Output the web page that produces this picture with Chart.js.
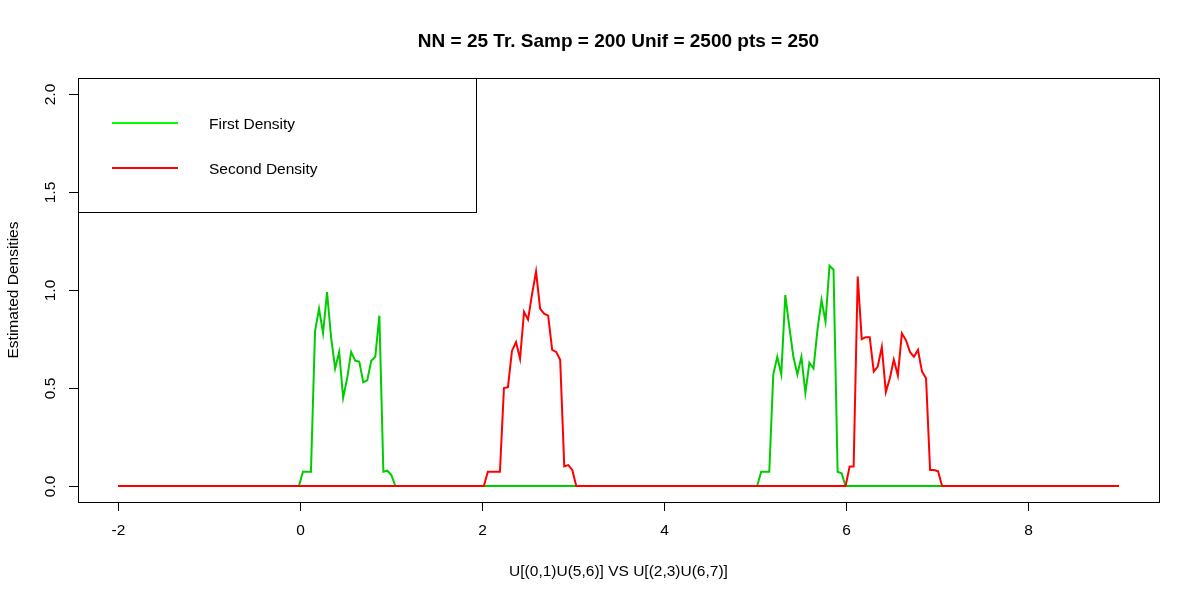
<!DOCTYPE html>
<html>
<head>
<meta charset="utf-8">
<script src="https://cdn.jsdelivr.net/npm/chart.js@4/dist/chart.umd.min.js"></script>
<style>
  html, body { margin: 0; padding: 0; background: #fff; }
  #wrap { width: 1200px; height: 600px; }
</style>
</head>
<body>
<div id="wrap"><canvas id="densidades" width="1200" height="600"></canvas></div>
<script>
// Textos
const titleText = 'NN = 25 Tr. Samp = 200 Unif = 2500 pts = 250';
const xAxisTitle = 'U[(0,1)U(5,6)] VS U[(2,3)U(6,7)]';
const yAxisTitle = 'Estimated Densities';
const seriesLabels = ['First Density', 'Second Density'];

// Ticks
const xTicks = [-2, 0, 2, 4, 6, 8];
const yTicks = [0, 0.5, 1, 1.5, 2];
const yTickLabels = ['0.0', '0.5', '1.0', '1.5', '2.0'];

// Primera densidad
const firstDensityX = [-2, -0.012, 0.032, 0.076, 0.120, 0.165, 0.209, 0.253, 0.297, 0.341, 0.386,
  0.430, 0.474, 0.518, 0.562, 0.606, 0.651, 0.695, 0.739, 0.783, 0.827, 0.872, 0.916, 0.960,
  1.004, 1.048, 5.024, 5.068, 5.112, 5.157, 5.201, 5.245, 5.289, 5.333, 5.378, 5.422, 5.466,
  5.510, 5.554, 5.598, 5.643, 5.687, 5.731, 5.775, 5.819, 5.863, 5.908, 5.952, 5.996, 9];
const firstDensityY = [0, 0, 0.073, 0.073, 0.073, 0.79, 0.906, 0.78, 0.99, 0.76, 0.60,
  0.685, 0.45, 0.55, 0.685, 0.64, 0.635, 0.53, 0.54, 0.64, 0.66, 0.87, 0.073, 0.078,
  0.056, 0, 0, 0.073, 0.073, 0.073, 0.57, 0.66, 0.57, 0.975, 0.81, 0.66, 0.57,
  0.66, 0.475, 0.63, 0.60, 0.80, 0.95, 0.84, 1.125, 1.105, 0.073, 0.065, 0, 0];

// Segunda densidad
const secondDensityX = [-2, 2.020, 2.064, 2.108, 2.153, 2.197, 2.241, 2.285, 2.329, 2.374, 2.418,
  2.462, 2.506, 2.550, 2.594, 2.639, 2.683, 2.727, 2.771, 2.815, 2.859, 2.904, 2.948, 2.992,
  3.036, 5.996, 6.040, 6.084, 6.129, 6.173, 6.217, 6.261, 6.305, 6.349, 6.394, 6.438, 6.482,
  6.526, 6.570, 6.614, 6.659, 6.703, 6.747, 6.791, 6.835, 6.880, 6.924, 6.968, 7.012, 7.056, 9];
const secondDensityY = [0, 0, 0.073, 0.073, 0.073, 0.073, 0.50, 0.505, 0.69, 0.735, 0.65,
  0.89, 0.85, 0.98, 1.095, 0.905, 0.88, 0.87, 0.695, 0.685, 0.645, 0.10, 0.107, 0.082,
  0, 0, 0.10, 0.10, 1.07, 0.75, 0.76, 0.76, 0.585, 0.61, 0.71, 0.48, 0.55,
  0.645, 0.565, 0.78, 0.745, 0.685, 0.66, 0.695, 0.585, 0.55, 0.082, 0.082, 0.075, 0, 0];

const fuente = '"Liberation Sans", Arial, sans-serif';

function puntos(xs, ys) {
  return xs.map((x, i) => ({ x: x, y: ys[i] }));
}

// Ejes, caja, titulos y leyenda al estilo R
const estiloR = {
  id: 'estiloR',
  beforeDraw(chart) {
    const ctx = chart.ctx;
    ctx.save();
    ctx.fillStyle = '#fff';
    ctx.fillRect(0, 0, chart.width, chart.height);
    ctx.restore();
  },
  afterDraw(chart) {
    const ctx = chart.ctx;
    const a = chart.chartArea;
    const sx = chart.scales.x;
    const sy = chart.scales.y;
    const l = Math.round(a.left), t = Math.round(a.top);
    const r = Math.round(a.right), b = Math.round(a.bottom);

    ctx.save();
    ctx.strokeStyle = '#000';
    ctx.fillStyle = '#000';
    ctx.lineWidth = 1;

    // caja
    ctx.strokeRect(l + 0.5, t + 0.5, r - l, b - t);

    // eje x
    ctx.font = '15.5px ' + fuente;
    ctx.textAlign = 'center';
    ctx.textBaseline = 'middle';
    xTicks.forEach(v => {
      const px = Math.round(sx.getPixelForValue(v)) + 0.5;
      ctx.beginPath();
      ctx.moveTo(px, b);
      ctx.lineTo(px, b + 9);
      ctx.stroke();
      ctx.fillText(String(v), px, 531);
    });

    // eje y
    yTicks.forEach((v, i) => {
      const py = Math.round(sy.getPixelForValue(v)) + 0.5;
      ctx.beginPath();
      ctx.moveTo(l, py);
      ctx.lineTo(l - 9, py);
      ctx.stroke();
      ctx.save();
      ctx.translate(51, py);
      ctx.rotate(-Math.PI / 2);
      ctx.fillText(yTickLabels[i], 0, 0);
      ctx.restore();
    });

    // titulos
    ctx.fillText(xAxisTitle, (l + r) / 2, 572);
    ctx.save();
    ctx.translate(14, (t + b) / 2);
    ctx.rotate(-Math.PI / 2);
    ctx.fillText(yAxisTitle, 0, 0);
    ctx.restore();

    ctx.font = 'bold 19px ' + fuente;
    ctx.fillText(titleText, (l + r) / 2, 42);

    // leyenda
    ctx.strokeRect(l + 0.5, t + 0.5, 398, 134);
    const filas = [123, 168];
    const coloresLeyenda = ['#00FF00', '#FF0000'];
    ctx.font = '15.5px ' + fuente;
    ctx.textAlign = 'left';
    seriesLabels.forEach((txt, i) => {
      ctx.strokeStyle = coloresLeyenda[i];
      ctx.lineWidth = 2;
      ctx.beginPath();
      ctx.moveTo(112, filas[i]);
      ctx.lineTo(178, filas[i]);
      ctx.stroke();
      ctx.fillText(txt, 209, filas[i] + 2);
    });

    ctx.restore();
  }
};

const ctx = document.getElementById('densidades').getContext('2d');
new Chart(ctx, {
  type: 'line',
  data: {
    datasets: [{
      label: seriesLabels[0],
      data: puntos(firstDensityX, firstDensityY),
      borderColor: '#00CD00',
      borderWidth: 2,
      pointRadius: 0,
      tension: 0,
      order: 2
    }, {
      label: seriesLabels[1],
      data: puntos(secondDensityX, secondDensityY),
      borderColor: '#FF0000',
      borderWidth: 2,
      pointRadius: 0,
      tension: 0,
      order: 1
    }]
  },
  options: {
    responsive: false,
    animation: false,
    devicePixelRatio: 1,
    layout: { padding: { left: 78, top: 78, right: 41, bottom: 98 } },
    plugins: {
      legend: { display: false },
      tooltip: { enabled: false }
    },
    scales: {
      x: { type: 'linear', min: -2.44, max: 9.44, display: false },
      y: { type: 'linear', min: -0.08173, max: 2.084, display: false }
    }
  },
  plugins: [estiloR]
});
</script>
</body>
</html>
